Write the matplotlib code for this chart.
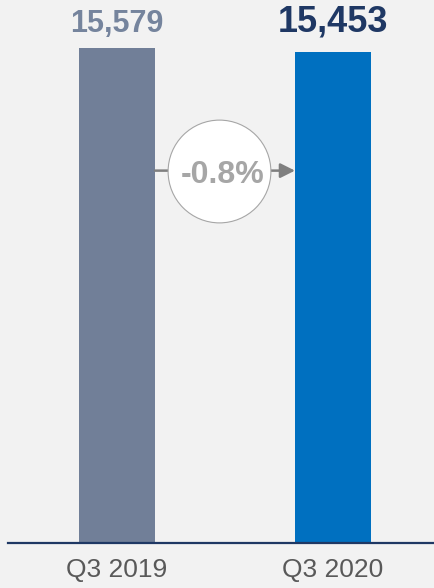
import matplotlib.pyplot as plt

# ---- Data ----
periods = ['Q3 2019', 'Q3 2020']
values = [15579, 15453]
bar_colors = ['#717f98', '#0070c0']
label_colors = ['#75849d', '#1f3864']
label_sizes = [22, 26]

change = (values[1] - values[0]) / values[0] * 100

plt.rcParams['font.family'] = ['Liberation Sans', 'DejaVu Sans']

fig = plt.figure(figsize=(4.35, 5.88), dpi=100, facecolor='#f2f2f2')
ax = fig.add_axes([8 / 435, 45 / 588, 427 / 435, 543 / 588])
ax.set_facecolor('#f2f2f2')

x = [0, 1]
width = 0.352
bars = ax.bar(x, values, width=width, color=bar_colors, zorder=2)

ax.set_xlim(-0.5046, 1.4722)
ax.set_ylim(0, 17090)

# value labels above bars
for xi, v, c, s, off in zip(x, values, label_colors, label_sizes, [11.5, 15]):
    ax.annotate(f'{v:,}', (xi, v), xytext=(0, off), textcoords='offset points',
                ha='center', va='baseline', fontsize=s, fontweight='bold', color=c)

# change arrow with circle
y_arrow = 11720
ax.annotate('', xy=(1 - width / 2, y_arrow), xytext=(width / 2, y_arrow),
            arrowprops=dict(arrowstyle='-|>', color='#7f7f7f', lw=1.8,
                            mutation_scale=22, shrinkA=0, shrinkB=0), zorder=3)
cx = 0.47
ax.plot([cx], [11700], 'o', markersize=74, markerfacecolor='white',
        markeredgecolor='#a6a6a6', markeredgewidth=0.8, zorder=4)
ax.text(cx + 0.02, 11580, f'{change:.1f}%', ha='center', va='center',
        fontsize=23, fontweight='bold', color='#a6a6a6', zorder=5)

# axes styling
ax.set_xticks(x)
ax.set_xticklabels(periods, fontsize=19, color='#595959')
ax.tick_params(axis='x', length=0, pad=11)
ax.set_yticks([])
for side in ['top', 'left', 'right']:
    ax.spines[side].set_visible(False)
ax.spines['bottom'].set_color('#1f3864')
ax.spines['bottom'].set_linewidth(1.6)

fig.savefig('out.png', dpi=100, facecolor=fig.get_facecolor())
